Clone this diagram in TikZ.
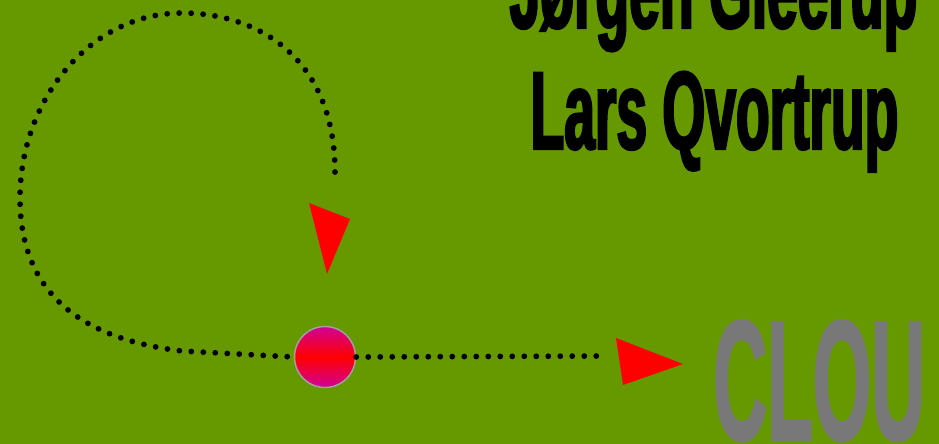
\documentclass[tikz,border=0pt]{standalone}
\usepackage{fontspec}
\newfontfamily\namefont[FakeStretch=0.497,FakeBold=2]{Liberation Sans Bold}
\newfontfamily\cloufont[FakeStretch=0.435,FakeBold=1]{Liberation Sans Bold}
\definecolor{bg}{RGB}{102,153,0}
\definecolor{mag}{RGB}{208,0,150}
\definecolor{rim}{RGB}{160,160,160}
\definecolor{cloud}{RGB}{120,120,120}
\begin{document}
\begin{tikzpicture}[x=1pt,y=-1pt,
  dots/.style={line width=5.8pt,line cap=round,dash pattern=on 0pt off 12pt},
  arrowtri/.style={fill=red,draw=none},
  names/.style={inner sep=0pt,anchor=base,font=\namefont\fontsize{111}{111}\selectfont},
  ball/.style={circle,minimum size=61pt,inner sep=0pt,draw=rim,line width=1.5pt,
    top color=mag,bottom color=mag,middle color=red}]
\fill[bg] (0,0) rectangle (939,444);
\useasboundingbox (0,0) rectangle (939,444);
% texts
\node[names] (jg) at (713.5,28) {Jørgen Gleerup};
\node[names] (lq) at (714.5,149) {Lars Qvortrup};
\node[inner sep=0pt,anchor=base west,text=cloud,font=\cloufont\fontsize{172}{172}\selectfont] (cl) at (713,440) {CLOU};
% ball
\node[ball] (b) at (325,357) {};
% dotted paths
\coordinate (s) at (335,172);
\coordinate (e) at (603,356);
\draw[dots] (s) .. controls (335,60) and (260,13) .. (182,13)
  .. controls (90,13) and (20,100) .. (20,198)
  .. controls (20,300) and (90,340) .. (182,351) -- (b.west);
\draw[dots] (b.east) -- (e);
% triangles
\fill[arrowtri] (309,203) -- (350,219) -- (327,274) -- cycle;
\fill[arrowtri] (616,338) -- (683,364) -- (623,385) -- cycle;
\end{tikzpicture}
\end{document}
